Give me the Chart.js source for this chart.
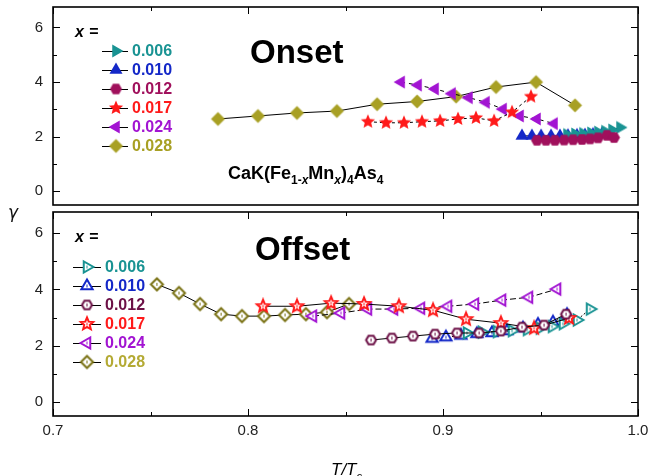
<!DOCTYPE html>
<html>
<head>
<meta charset="utf-8">
<script src="https://cdn.jsdelivr.net/npm/chart.js@4.4.1/dist/chart.umd.min.js"></script>
<style>
  body { margin: 0; background: #fff; }
  #wrap { position: relative; width: 650px; height: 476px; overflow: hidden; }
  canvas { position: absolute; left: 0; }
  #gamma { position: absolute; left: 8px; top: 202px; font: italic 17px "DejaVu Sans", sans-serif; color: #111; }
</style>
</head>
<body>
<div id="wrap">
  <canvas id="onsetChart" width="650" height="212" style="top:0"></canvas>
  <canvas id="offsetChart" width="650" height="271" style="top:205px"></canvas>
  <div id="gamma">γ</div>
</div>
<script>
// ---- data (T/Tc and gamma) ----
let labels = ["0.006", "0.010", "0.012", "0.017", "0.024", "0.028"];

// onset
let onT006 = [0.9636, 0.9677, 0.9718, 0.9759, 0.9795, 0.9831, 0.9867, 0.9908];
let onG006 = [2.08, 2.10, 2.12, 2.14, 2.17, 2.20, 2.25, 2.34];
let onT010 = [0.9405, 0.9456, 0.9503, 0.9554, 0.9600, 0.9641, 0.9687, 0.9728, 0.9769, 0.9815];
let onG010 = [2.03, 2.03, 2.03, 2.03, 2.03, 2.04, 2.05, 2.06, 2.08, 2.10];
let onT012 = [0.9482, 0.9528, 0.9574, 0.9621, 0.9667, 0.9713, 0.9754, 0.9795, 0.9841, 0.9877];
let onG012 = [1.87, 1.87, 1.87, 1.88, 1.89, 1.90, 1.92, 1.96, 2.05, 1.97];
let onT017 = [0.8615, 0.8708, 0.8800, 0.8892, 0.8985, 0.9077, 0.9169, 0.9262, 0.9354, 0.9451];
let onG017 = [2.55, 2.51, 2.51, 2.55, 2.58, 2.65, 2.69, 2.58, 2.90, 3.47];
let onT024 = [0.8785, 0.8872, 0.8959, 0.9046, 0.9133, 0.9220, 0.9308, 0.9395, 0.9482, 0.9569];
let onG024 = [4.00, 3.89, 3.75, 3.58, 3.43, 3.26, 3.01, 2.76, 2.65, 2.48];
let onT028 = [0.7846, 0.8051, 0.8251, 0.8456, 0.8662, 0.8867, 0.9067, 0.9272, 0.9477, 0.9677];
let onG028 = [2.65, 2.76, 2.87, 2.94, 3.19, 3.29, 3.47, 3.82, 4.00, 3.15];

// offset
let offT006 = [0.9123, 0.9200, 0.9277, 0.9354, 0.9431, 0.9497, 0.9559, 0.9615, 0.9687, 0.9754];
let offG006 = [2.45, 2.48, 2.50, 2.53, 2.57, 2.62, 2.68, 2.78, 2.91, 3.30];
let offT010 = [0.8944, 0.9015, 0.9092, 0.9174, 0.9251, 0.9328, 0.9410, 0.9487, 0.9564, 0.9636];
let offG010 = [2.25, 2.30, 2.36, 2.42, 2.45, 2.52, 2.62, 2.75, 2.83, 3.10];
let offT012 = [0.8631, 0.8738, 0.8846, 0.8959, 0.9072, 0.9185, 0.9297, 0.9405, 0.9518, 0.9631];
let offG012 = [2.20, 2.27, 2.34, 2.41, 2.45, 2.45, 2.52, 2.66, 2.73, 3.12];
let offT017 = [0.8077, 0.8251, 0.8426, 0.8595, 0.8774, 0.8949, 0.9118, 0.9297, 0.9467, 0.9646];
let offG017 = [3.40, 3.40, 3.51, 3.48, 3.40, 3.26, 2.94, 2.80, 2.62, 2.98];
let offT024 = [0.8333, 0.8477, 0.8615, 0.8749, 0.8887, 0.9026, 0.9164, 0.9303, 0.9441, 0.9585];
let offG024 = [3.05, 3.16, 3.30, 3.30, 3.33, 3.40, 3.48, 3.62, 3.72, 4.01];
let offT028 = [0.7533, 0.7646, 0.7754, 0.7862, 0.7969, 0.8082, 0.8190, 0.8297, 0.8405, 0.8518];
let offG028 = [4.18, 3.87, 3.48, 3.12, 3.05, 3.05, 3.09, 3.12, 3.19, 3.48];

let xTicks = [0.7, 0.8, 0.9, 1.0];
let yTicks = [0, 2, 4, 6];

const FONT = "'Liberation Sans', Arial, sans-serif";

// marker images (Chart.js has no hexagon / filled 5-point star)
function makeMarker(shape, color, open) {
  let r = 7.5;
  if (shape === "diamond") r = 7;
  if (shape === "hex") r = 6;
  if (shape === "star") r = 7.5;
  if (open) r -= 1;
  let s = Math.ceil(2 * r + 5);
  let c = document.createElement("canvas");
  c.width = s; c.height = s;
  let g = c.getContext("2d");
  let cx = s / 2, cy = s / 2;
  let pts = [];
  function poly(n, rad, a0) {
    for (let k = 0; k < n; k++) {
      let a = a0 + k * 2 * Math.PI / n;
      pts.push([cx + rad * Math.cos(a), cy + rad * Math.sin(a)]);
    }
  }
  if (shape === "triR") poly(3, r, 0);
  if (shape === "triU") poly(3, r, -Math.PI / 2);
  if (shape === "triL") poly(3, r, Math.PI);
  if (shape === "diamond") poly(4, r, 0);
  if (shape === "hex") poly(6, r, 0);
  if (shape === "star") {
    for (let k = 0; k < 10; k++) {
      let a = -Math.PI / 2 + k * Math.PI / 5;
      let rr = k % 2 === 0 ? r : r * 0.45;
      pts.push([cx + rr * Math.cos(a), cy + rr * Math.sin(a)]);
    }
  }
  g.beginPath();
  pts.forEach((p, i) => i === 0 ? g.moveTo(p[0], p[1]) : g.lineTo(p[0], p[1]));
  g.closePath();
  if (open) {
    g.fillStyle = "#fff";
    g.fill();
    g.lineWidth = 2;
    g.strokeStyle = color;
    g.stroke();
    g.fillStyle = color;
    g.fillRect(cx - 0.5, cy - 1.5, 1, 3);
  } else {
    g.fillStyle = color;
    g.fill();
  }
  return c;
}

let shapes = ["triR", "triU", "hex", "star", "triL", "diamond"];
let onColors = ["#199393", "#1428c8", "#a0105c", "#ff1a1a", "#a214d2", "#a8a024"];
let offColors = ["#199393", "#1428c8", "#6c1046", "#ff1a1a", "#a214d2", "#7a7214"];
let offText = ["#199393", "#1428c8", "#6c1046", "#ff1a1a", "#a214d2", "#b4aa34"];

let onMarkers = shapes.map((s, i) => makeMarker(s, onColors[i], false));
let offMarkers = shapes.map((s, i) => makeMarker(s, offColors[i], true));

function pts(xs, ys) {
  return xs.map((x, i) => ({ x: x, y: ys[i] }));
}

function ds(xs, ys, img, dash) {
  return {
    data: pts(xs, ys),
    borderColor: "#000",
    borderWidth: 1,
    borderDash: dash,
    pointStyle: img,
    pointRadius: 6,
    pointHoverRadius: 6,
    fill: false,
    tension: 0,
  };
}

// draw order: first dataset is drawn on top
let onsetSets = [
  ds(onT012, onG012, onMarkers[2], []),
  ds(onT006, onG006, onMarkers[0], []),
  ds(onT010, onG010, onMarkers[1], []),
  ds(onT017, onG017, onMarkers[3], [3, 3]),
  ds(onT024, onG024, onMarkers[4], [4, 4]),
  ds(onT028, onG028, onMarkers[5], []),
];
let offsetSets = [
  ds(offT012, offG012, offMarkers[2], []),
  ds(offT017, offG017, offMarkers[3], []),
  ds(offT006, offG006, offMarkers[0], [2, 2]),
  ds(offT010, offG010, offMarkers[1], [3, 2]),
  ds(offT024, offG024, offMarkers[4], [6, 3]),
  ds(offT028, offG028, offMarkers[5], []),
];

// box with inward ticks; the top panel leaves its bottom edge to the lower panel
function framePlugin(bottomTicks) {
  return {
    id: "frame",
    afterDraw(chart) {
      const { ctx, chartArea: a, scales } = chart;
      ctx.save();
      ctx.strokeStyle = "#000";
      ctx.lineWidth = 1;
      ctx.beginPath();
      [0.7, 0.75, 0.8, 0.85, 0.9, 0.95, 1.0].forEach((v, i) => {
        let px = Math.round(scales.x.getPixelForValue(v)) + 0.5;
        let len = i % 2 === 0 ? 7 : 4;
        if (bottomTicks) { ctx.moveTo(px, a.bottom); ctx.lineTo(px, a.bottom - len); }
        ctx.moveTo(px, a.top); ctx.lineTo(px, a.top + len);
      });
      for (let v = 0; v <= 6; v++) {
        let py = Math.round(scales.y.getPixelForValue(v)) + 0.5;
        let len = v % 2 === 0 ? 7 : 4;
        ctx.moveTo(a.left, py); ctx.lineTo(a.left + len, py);
        ctx.moveTo(a.right, py); ctx.lineTo(a.right - len, py);
      }
      ctx.stroke();
      ctx.lineWidth = 1.6;
      ctx.strokeRect(a.left, a.top, a.right - a.left, a.bottom - a.top);
      ctx.restore();
    },
  };
}

function drawLegend(ctx, x0, yTitle, ys, lineL, lineR, markerX, textX, imgs, colors) {
  ctx.save();
  ctx.textBaseline = "alphabetic";
  ctx.fillStyle = "#000";
  ctx.font = "italic bold 16px " + FONT;
  ctx.fillText("x", x0, yTitle);
  let w = ctx.measureText("x ").width;
  ctx.font = "bold 16px " + FONT;
  ctx.fillText("=", x0 + w + 1, yTitle);
  ctx.strokeStyle = "#000";
  ctx.lineWidth = 1;
  ctx.textBaseline = "middle";
  ctx.font = "bold 16px " + FONT;
  ys.forEach((y, i) => {
    ctx.beginPath();
    ctx.moveTo(lineL, y + 0.5); ctx.lineTo(lineR, y + 0.5);
    ctx.stroke();
    let img = imgs[i];
    ctx.drawImage(img, markerX - img.width / 2, y - img.height / 2);
    ctx.fillStyle = colors[i];
    ctx.fillText(labels[i], textX, y + 1);
  });
  ctx.restore();
}

// pieces of text: [string, size, italic, dy]
function drawRich(ctx, x, y, parts) {
  parts.forEach(p => {
    ctx.font = (p[2] ? "italic " : "") + "bold " + p[1] + "px " + FONT;
    ctx.fillText(p[0], x, y + p[3]);
    x += ctx.measureText(p[0]).width;
  });
}

const onsetText = {
  id: "onsetText",
  afterDraw(chart) {
    const ctx = chart.ctx;
    ctx.save();
    ctx.fillStyle = "#000";
    ctx.font = "bold 33px " + FONT;
    ctx.fillText("Onset", 250, 63);
    drawRich(ctx, 228, 179, [
      ["CaK(Fe", 18, false, 0], ["1-", 12, false, 5], ["x", 12, true, 5],
      ["Mn", 18, false, 0], ["x", 12, true, 5], [")", 18, false, 0],
      ["4", 12, false, 5], ["As", 18, false, 0], ["4", 12, false, 5],
    ]);
    ctx.restore();
    drawLegend(ctx, 75, 37, [51, 70, 89, 108, 127, 146], 102, 128, 116, 132, onMarkers, onColors);
  },
};

const offsetText = {
  id: "offsetText",
  afterDraw(chart) {
    const ctx = chart.ctx;
    ctx.save();
    ctx.fillStyle = "#000";
    ctx.font = "bold 33px " + FONT;
    ctx.fillText("Offset", 255, 55);
    // axis title T/Tc
    ctx.font = "italic 17px " + FONT;
    ctx.fillText("T/T", 331, 270);
    let w = ctx.measureText("T/T").width;
    ctx.font = "italic 11px " + FONT;
    ctx.fillText("c", 331 + w, 275);
    ctx.restore();
    drawLegend(ctx, 75, 37, [62, 81, 100, 119, 138, 157], 73, 101, 87, 105, offMarkers, offText);
  },
};

function panelOptions(showX) {
  return {
    responsive: false,
    animation: false,
    layout: {
      padding: showX ? { top: 6, right: 12, left: 0, bottom: 0 } : { top: 7, right: 12, left: 0, bottom: 1 },
    },
    plugins: { legend: { display: false }, tooltip: { enabled: false } },
    scales: {
      x: {
        type: "linear",
        min: 0.7,
        max: 1.0,
        display: showX,
        grid: { display: false, drawTicks: false },
        border: { display: false },
        afterBuildTicks: s => { s.ticks = xTicks.map(v => ({ value: v })); },
        afterFit: s => {
          s.height = showX ? 60 : 0;
          s.paddingLeft = 0; s.paddingRight = 0;
        },
        ticks: {
          padding: 6,
          color: "#222",
          maxRotation: 0,
          font: { family: FONT, size: 15 },
          callback: v => v.toFixed(1),
        },
      },
      y: {
        type: "linear",
        min: -0.5,
        max: 6.75,
        grid: { display: false, drawTicks: false },
        border: { display: false },
        afterBuildTicks: s => { s.ticks = yTicks.map(v => ({ value: v })); },
        afterFit: s => {
          s.width = 53;
          s.paddingTop = 0; s.paddingBottom = 0;
        },
        ticks: {
          padding: 10,
          color: "#222",
          font: { family: FONT, size: 15 },
        },
      },
    },
  };
}

new Chart(document.getElementById("onsetChart"), {
  type: "line",
  data: { datasets: onsetSets },
  options: panelOptions(false),
  plugins: [framePlugin(false), onsetText],
});

new Chart(document.getElementById("offsetChart"), {
  type: "line",
  data: { datasets: offsetSets },
  options: panelOptions(true),
  plugins: [framePlugin(true), offsetText],
});
</script>
</body>
</html>
